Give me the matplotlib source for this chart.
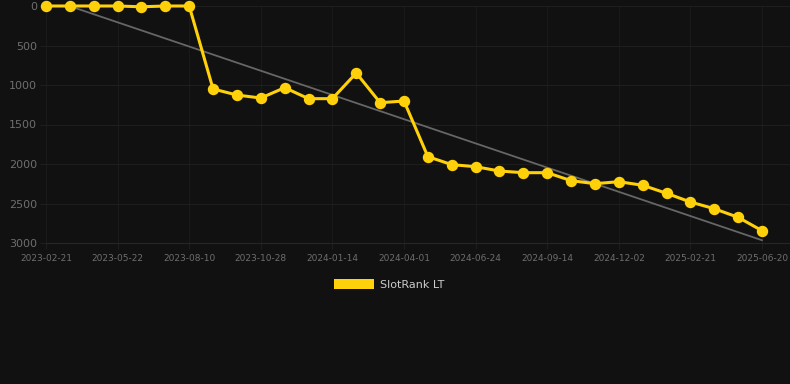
import matplotlib
matplotlib.use("Agg")
import matplotlib.pyplot as plt
from matplotlib.patches import Rectangle

# ---- data ----
tick_labels = ["2023-02-21", "2023-05-22", "2023-08-10", "2023-10-28", "2024-01-14",
               "2024-04-01", "2024-06-24", "2024-09-14", "2024-12-02", "2025-02-21",
               "2025-06-20"]
rank = [0, 0, 0, 0, 10, 0, 0,
        1050, 1127, 1165, 1034, 1173, 1173, 848, 1224, 1203,
        1907, 2008, 2034, 2089, 2110, 2110, 2211, 2249, 2224, 2269,
        2371, 2481, 2566, 2675, 2844]
trend_ends = [-100, 2965]
series_name = "SlotRank LT"

W, H = 790, 384
BG = "#111111"
GRID = "#1e1e1e"
GOLD = "#FFD10A"

fig = plt.figure(figsize=(W / 100, H / 100), dpi=100, facecolor=BG)
left_px, right_px, top_px, bottom_px = 46, 790, 6, 243
ax = fig.add_axes([left_px / W, 1 - bottom_px / H,
                   (right_px - left_px) / W, (bottom_px - top_px) / H])
ax.set_facecolor(BG)

n = len(rank)
xs = list(range(n))
px_per_idx = (762 - 46) / (n - 1)
ax.set_xlim(0, (right_px - left_px) / px_per_idx)
ax.set_ylim(3000, 0)

ax.set_yticks([0, 500, 1000, 1500, 2000, 2500, 3000])
ax.set_yticklabels(["0", "500", "1000", "1500", "2000", "2500", "3000"])
tick_pos = list(range(0, n, 3))
ax.set_xticks(tick_pos)
ax.set_xticklabels(tick_labels)

ax.grid(True, axis="y", color=GRID, linewidth=0.8)
ax.grid(True, axis="x", color="#1a1a1a", linewidth=0.8)
ax.set_axisbelow(True)
for s in ax.spines.values():
    s.set_visible(False)
ax.spines["bottom"].set_visible(True)
ax.spines["bottom"].set_color("#262626")
ax.spines["bottom"].set_linewidth(0.8)
ax.tick_params(axis="y", length=4.3, color=GRID, width=0.8, pad=2.2,
               labelsize=8, labelcolor="#6e6e6e")
ax.tick_params(axis="x", length=4.3, color="#1e1e1e", width=0.8, pad=3.5,
               labelsize=6.5, labelcolor="#6e6e6e")

# trend line
ax.plot([0, n - 1], trend_ends, color="#666666", linewidth=1.3, zorder=2)
# series
ax.plot(xs, rank, color=GOLD, linewidth=2.2, marker="o", markersize=7.2,
        markerfacecolor=GOLD, markeredgecolor=GOLD, clip_on=False, zorder=3)

# legend
fig.add_artist(Rectangle((334 / W, 1 - 289 / H), 40 / W, 10 / H,
                         transform=fig.transFigure, facecolor=GOLD,
                         edgecolor="none"))
fig.text(380 / W, 1 - 284.5 / H, series_name, color="#cccccc", fontsize=8,
         va="center", ha="left")

fig.savefig("out.png", dpi=100, facecolor=BG)
